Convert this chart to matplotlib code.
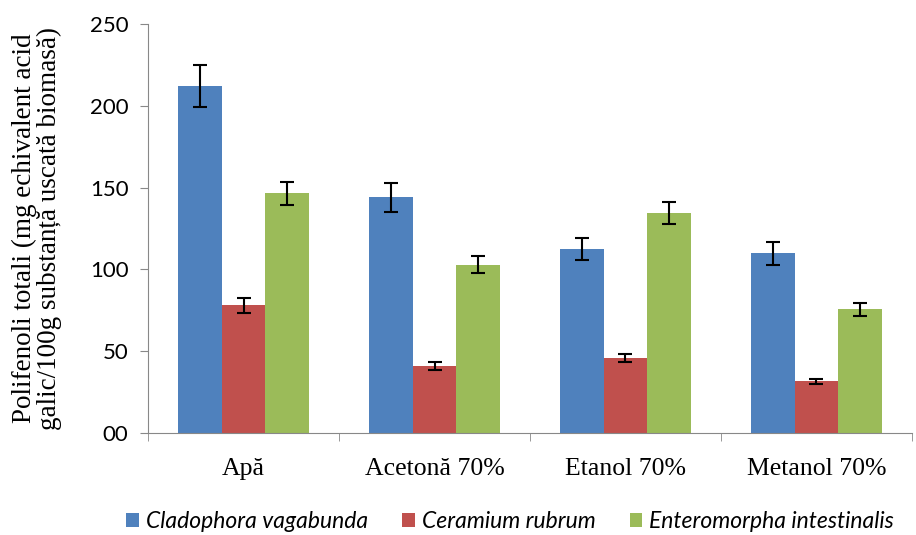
import matplotlib
matplotlib.use("Agg")
import matplotlib.pyplot as plt
import numpy as np

categories = ["Apă", "Acetonă 70%", "Etanol 70%", "Metanol 70%"]
series = ["Cladophora vagabunda", "Ceramium rubrum", "Enteromorpha intestinalis"]
cladophora = [212, 144, 112.5, 110]
ceramium = [78, 41, 46, 31.5]
enteromorpha = [146.5, 103, 134.5, 75.5]
cladophora_err = [13, 9, 7, 7]
ceramium_err = [4.5, 2.5, 2.5, 1.5]
enteromorpha_err = [7, 5, 7, 4]
colors = ["#4F81BD", "#C0504D", "#9BBB59"]

fig = plt.figure(figsize=(9.16, 5.35), dpi=100)
ax = fig.add_axes([0.1616, 0.1907, 0.834, 0.7643])

x = np.arange(len(categories))
w = 0.228
values = [cladophora, ceramium, enteromorpha]
errs = [cladophora_err, ceramium_err, enteromorpha_err]
for i, (vals, err) in enumerate(zip(values, errs)):
    ax.bar(x + (i - 1) * w, vals, w, color=colors[i], label=series[i],
           yerr=err, capsize=5,
           error_kw=dict(ecolor="black", elinewidth=1.5, capthick=1.5))

ax.set_xlim(-0.5, len(categories) - 0.5)
ax.set_ylim(0, 250)
ax.set_yticks(range(0, 251, 50))
ax.set_yticklabels(["00", "50", "100", "150", "200", "250"],
                   family="Lato", fontsize=16)
ax.set_xticks(x)
ax.set_xticklabels(categories, family="Liberation Serif", fontsize=18.5)
ax.tick_params(axis="x", length=0, pad=18)
ax.set_xticks(np.arange(-0.5, len(categories)), minor=True)
ax.tick_params(axis="x", which="minor", length=6, color="#888888")
ax.tick_params(axis="y", length=6, color="#888888", pad=8)
for s in ["top", "right"]:
    ax.spines[s].set_visible(False)
for s in ["left", "bottom"]:
    ax.spines[s].set_color("#888888")

ax.set_ylabel("Polifenoli totali (mg echivalent acid\ngalic/100g substanță uscată biomasă)",
              family="Liberation Serif", fontsize=19.5, labelpad=20, linespacing=1.0)

fig.legend(loc="center", bbox_to_anchor=(0.557, 0.025), ncol=3,
           frameon=False, handlelength=0.55, handleheight=0.55,
           handletextpad=0.3, columnspacing=1.5, borderpad=0,
           prop=dict(family="Lato", style="italic", size=16.5))

fig.savefig("out.png", dpi=100)
